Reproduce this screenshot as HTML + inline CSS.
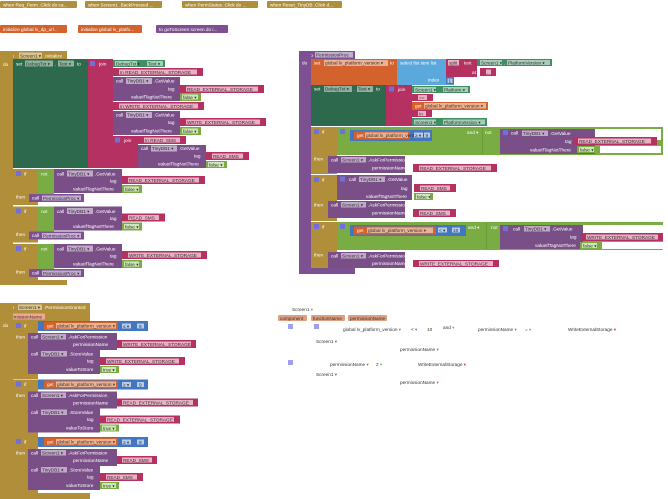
<!DOCTYPE html>
<html><head><meta charset="utf-8"><style>
html,body{margin:0;padding:0;background:#fff;width:668px;height:499px;overflow:hidden}
svg text{font-family:"Liberation Sans",sans-serif;font-size:4.7px;fill:#fff}
.d{fill:#333}
</style></head><body>
<svg width="668" height="499" viewBox="0 0 668 499" xmlns="http://www.w3.org/2000/svg">
<!-- top collapsed -->
<g>
<rect x="0" y="1" width="77" height="7" fill="#b18f3a" rx="1"/><text x="3" y="6.5">when Req_Perm .Click do ca...</text>
<rect x="85" y="1" width="77" height="7" fill="#b18f3a" rx="1"/><text x="88" y="6.5">when Screen1 .BackPressed ...</text>
<rect x="182" y="1" width="76" height="7" fill="#b18f3a" rx="1"/><text x="185" y="6.5">when PermStatus .Click do ...</text>
<rect x="267" y="1" width="75" height="7" fill="#b18f3a" rx="1"/><text x="270" y="6.5">when Reset_TinyDB .Click d...</text>
<rect x="0" y="25" width="67" height="8" fill="#d4622c" rx="1"/><text x="3" y="31">initialize global lv_dp_url...</text>
<rect x="78" y="25" width="64" height="8" fill="#d4622c" rx="1"/><text x="81" y="31">initialize global lv_platfo...</text>
<rect x="156" y="25" width="72" height="8" fill="#7d5191" rx="1"/><text x="159" y="31">to goToScreen   screen do i...</text>
</g>

<!-- Screen1.Initialize -->
<g>
<rect x="0" y="51" width="67" height="10" fill="#b18f3a"/>
<text x="3" y="57.5">when</text><rect x="19" y="52.5" width="23" height="6" fill="#d8c495"/><text x="20" y="57.5" class="d">Screen1 ▾</text><text x="44" y="57.5">.Initialize</text>
<rect x="0" y="51" width="13" height="234" fill="#b18f3a"/>
<rect x="0" y="280" width="67" height="5" fill="#b18f3a"/>
<text x="3" y="66">do</text>
<rect x="13" y="59" width="75" height="109" fill="#2d6a4d"/>
<text x="16" y="65.5">set</text><rect x="25" y="60.5" width="28" height="6" fill="#8fb3a0"/><text x="26" y="65.5" class="d">DebugTxt ▾</text><text x="55" y="65.5">.</text><rect x="58" y="60.5" width="16" height="6" fill="#8fb3a0"/><text x="59" y="65.5" class="d">Text ▾</text><text x="77" y="65.5">to</text>
<rect x="88" y="59" width="25" height="109" fill="#b53161"/>
<rect x="90" y="61" width="5" height="5" fill="#7070d8"/><text x="99" y="65.5">join</text>
<rect x="113" y="60" width="52" height="7" fill="#3e9063"/><rect x="115" y="61" width="22" height="5" fill="#a7cdb8"/><text x="116" y="65.3" class="d">DebugTxt ▾</text><rect x="147" y="61" width="16" height="5" fill="#a7cdb8"/><text x="148" y="65.3" class="d">Text ▾</text>
<rect x="113" y="68" width="90" height="8" fill="#b53161"/><rect x="119" y="69.5" width="78" height="5" fill="#e8b0c4"/><text x="120" y="74" class="d">In READ_EXTERNAL_STORAGE</text>
<rect x="113" y="77" width="67" height="24" fill="#7a4f88"/><text x="116" y="82.5">call</text><rect x="126" y="78" width="26" height="6" fill="#c0a8c8"/><text x="127" y="82.5" class="d">TinyDB1 ▾</text><text x="154" y="82.5">.GetValue</text>
<text x="168" y="90.5">tag</text><rect x="180" y="85" width="84" height="8" fill="#b53161"/><rect x="186" y="86.5" width="72" height="5" fill="#e8b0c4"/><text x="187" y="91" class="d">READ_EXTERNAL_STORAGE</text>
<text x="131" y="98.5">valueIfTagNotThere</text><rect x="180" y="93" width="21" height="8" fill="#79ad43"/><rect x="182" y="94.5" width="16" height="5" fill="#d0e6b8"/><text x="183" y="99" class="d">false ▾</text>
<rect x="113" y="102" width="91" height="8" fill="#b53161"/><rect x="119" y="103.5" width="79" height="5" fill="#e8b0c4"/><text x="120" y="108" class="d">In WRITE_EXTERNAL_STORAGE</text>
<rect x="113" y="111" width="67" height="24" fill="#7a4f88"/><text x="116" y="116.5">call</text><rect x="126" y="112" width="26" height="6" fill="#c0a8c8"/><text x="127" y="116.5" class="d">TinyDB1 ▾</text><text x="154" y="116.5">.GetValue</text>
<text x="168" y="124">tag</text><rect x="180" y="118" width="86" height="8" fill="#b53161"/><rect x="186" y="119.5" width="74" height="5" fill="#e8b0c4"/><text x="187" y="124" class="d">WRITE_EXTERNAL_STORAGE</text>
<text x="131" y="132.5">valueIfTagNotThere</text><rect x="180" y="127" width="21" height="8" fill="#79ad43"/><rect x="182" y="128.5" width="16" height="5" fill="#d0e6b8"/><text x="183" y="133" class="d">false ▾</text>
<rect x="113" y="136" width="25" height="32" fill="#b53161"/><rect x="115" y="137.5" width="5" height="5" fill="#7070d8"/><text x="124" y="142">join</text>
<rect x="138" y="136" width="48" height="8" fill="#b53161"/><rect x="144" y="137.5" width="36" height="5" fill="#e8b0c4"/><text x="145" y="142" class="d">In READ_SMS</text>
<rect x="138" y="145" width="68" height="23" fill="#7a4f88"/><text x="141" y="150">call</text><rect x="151" y="145.5" width="26" height="6" fill="#c0a8c8"/><text x="152" y="150" class="d">TinyDB1 ▾</text><text x="179" y="150">.GetValue</text>
<text x="194" y="157.5">tag</text><rect x="206" y="152" width="43" height="8" fill="#b53161"/><rect x="212" y="153.5" width="31" height="5" fill="#e8b0c4"/><text x="213" y="158" class="d">READ_SMS</text>
<text x="158" y="165.5">valueIfTagNotThere</text><rect x="206" y="161" width="21" height="7" fill="#79ad43"/><rect x="208" y="162" width="16" height="5" fill="#d0e6b8"/><text x="209" y="166.3" class="d">false ▾</text>
<!-- ifs -->
<g id="if1">
<rect x="13" y="169" width="25" height="36" fill="#b18f3a"/><rect x="16" y="171" width="5" height="5" fill="#7070d8"/><text x="24" y="175.5">if</text><text x="16" y="198.5">then</text>
<rect x="38" y="169" width="16" height="31" fill="#79ad43"/><text x="41" y="175.5">not</text>
<rect x="54" y="169" width="68" height="24" fill="#7a4f88"/><text x="57" y="175.5">call</text><rect x="67" y="170.5" width="26" height="6" fill="#c0a8c8"/><text x="68" y="175.5" class="d">TinyDB1 ▾</text><text x="95" y="175.5">.GetValue</text>
<text x="110" y="182.5">tag</text><rect x="122" y="176" width="83" height="8" fill="#b53161"/><rect x="128" y="177.5" width="71" height="5" fill="#e8b0c4"/><text x="129" y="182" class="d">READ_EXTERNAL_STORAGE</text>
<text x="73" y="190.5">valueIfTagNotThere</text><rect x="122" y="185" width="20" height="8" fill="#79ad43"/><rect x="124" y="186.5" width="15" height="5" fill="#d0e6b8"/><text x="125" y="191" class="d">false ▾</text>
<rect x="29" y="194" width="55" height="8" fill="#7d5191"/><text x="32" y="199.5">call</text><rect x="42" y="195.5" width="39" height="5" fill="#c3aed0"/><text x="43" y="199.8" class="d">PermissionProc ▾</text>
</g>
<g transform="translate(0,37.5)">
<rect x="13" y="169" width="25" height="36" fill="#b18f3a"/><rect x="16" y="171" width="5" height="5" fill="#7070d8"/><text x="24" y="175.5">if</text><text x="16" y="198.5">then</text>
<rect x="38" y="169" width="16" height="31" fill="#79ad43"/><text x="41" y="175.5">not</text>
<rect x="54" y="169" width="68" height="24" fill="#7a4f88"/><text x="57" y="175.5">call</text><rect x="67" y="170.5" width="26" height="6" fill="#c0a8c8"/><text x="68" y="175.5" class="d">TinyDB1 ▾</text><text x="95" y="175.5">.GetValue</text>
<text x="110" y="182.5">tag</text><rect x="122" y="176" width="43" height="8" fill="#b53161"/><rect x="128" y="177.5" width="31" height="5" fill="#e8b0c4"/><text x="129" y="182" class="d">READ_SMS</text>
<text x="73" y="190.5">valueIfTagNotThere</text><rect x="122" y="185" width="20" height="8" fill="#79ad43"/><rect x="124" y="186.5" width="15" height="5" fill="#d0e6b8"/><text x="125" y="191" class="d">false ▾</text>
<rect x="29" y="194" width="55" height="8" fill="#7d5191"/><text x="32" y="199.5">call</text><rect x="42" y="195.5" width="39" height="5" fill="#c3aed0"/><text x="43" y="199.8" class="d">PermissionProc ▾</text>
</g>
<g transform="translate(0,75)">
<rect x="13" y="169" width="25" height="36" fill="#b18f3a"/><rect x="16" y="171" width="5" height="5" fill="#7070d8"/><text x="24" y="175.5">if</text><text x="16" y="198.5">then</text>
<rect x="38" y="169" width="16" height="31" fill="#79ad43"/><text x="41" y="175.5">not</text>
<rect x="54" y="169" width="68" height="24" fill="#7a4f88"/><text x="57" y="175.5">call</text><rect x="67" y="170.5" width="26" height="6" fill="#c0a8c8"/><text x="68" y="175.5" class="d">TinyDB1 ▾</text><text x="95" y="175.5">.GetValue</text>
<text x="110" y="182.5">tag</text><rect x="122" y="176" width="85" height="8" fill="#b53161"/><rect x="128" y="177.5" width="73" height="5" fill="#e8b0c4"/><text x="129" y="182" class="d">WRITE_EXTERNAL_STORAGE</text>
<text x="73" y="190.5">valueIfTagNotThere</text><rect x="122" y="185" width="20" height="8" fill="#79ad43"/><rect x="124" y="186.5" width="15" height="5" fill="#d0e6b8"/><text x="125" y="191" class="d">false ▾</text>
<rect x="29" y="194" width="55" height="8" fill="#7d5191"/><text x="32" y="199.5">call</text><rect x="42" y="195.5" width="39" height="5" fill="#c3aed0"/><text x="43" y="199.8" class="d">PermissionProc ▾</text>
</g>
</g>

<!-- PermissionProc -->
<g>
<rect x="299" y="51" width="56" height="8" fill="#7d5191"/><rect x="301" y="52" width="5" height="5" fill="#7070d8"/><text x="309" y="56.8">to</text><rect x="315" y="52" width="38" height="5.5" fill="#c3aed0"/><text x="316" y="56.5" class="d">PermissionProc</text>
<rect x="299" y="51" width="12" height="223" fill="#7d5191"/><rect x="299" y="268" width="56" height="6" fill="#7d5191"/>
<text x="302" y="64.5">do</text>
<rect x="311" y="59" width="86" height="26" fill="#d4622c"/><text x="314" y="64.5">set</text><rect x="324" y="60" width="64" height="6" fill="#eab293"/><text x="325" y="64.5" class="d">global lv_platform_version ▾</text><text x="390" y="64.5">to</text>
<rect x="397" y="59" width="57" height="26" fill="#5aa8dc"/><text x="400" y="64.5">select list item  list</text><text x="428" y="81.5">index</text>
<rect x="446" y="77" width="8" height="7" fill="#4276bf"/><rect x="447.5" y="78.5" width="5" height="4.5" fill="#b8cbe8"/><text x="448.5" y="82.5" class="d">1</text>
<rect x="446" y="59" width="31" height="18" fill="#b53161"/><rect x="448" y="60" width="11" height="5.5" fill="#e8b0c4"/><text x="449" y="64.5" class="d">split</text><text x="464" y="64.5">text</text><text x="472" y="74">at</text>
<rect x="477" y="59" width="75" height="7" fill="#3e9063"/><rect x="480" y="60" width="22" height="5" fill="#a7cdb8"/><text x="481" y="64.3" class="d">Screen1 ▾</text><text x="504" y="64.3">.</text><rect x="507" y="60" width="43" height="5" fill="#a7cdb8"/><text x="508" y="64.3" class="d">PlatformVersion ▾</text>
<rect x="480" y="68" width="16" height="8" fill="#b53161"/><rect x="486" y="69.5" width="5" height="5" fill="#e8b0c4"/><text x="487" y="74" class="d">.</text>
<rect x="311" y="85" width="75" height="41" fill="#2d6a4d"/><text x="314" y="90.5">set</text><rect x="324" y="86" width="28" height="6" fill="#8fb3a0"/><text x="325" y="90.5" class="d">DebugTxt ▾</text><text x="354" y="90.5">.</text><rect x="357" y="86" width="16" height="6" fill="#8fb3a0"/><text x="358" y="90.5" class="d">Text ▾</text><text x="376" y="90.5">to</text>
<rect x="386" y="85" width="26" height="41" fill="#b53161"/><rect x="389" y="86.5" width="5" height="5" fill="#7070d8"/><text x="398" y="90.8">join</text>
<rect x="412" y="86" width="58" height="7" fill="#3e9063"/><rect x="414" y="87" width="22" height="5" fill="#a7cdb8"/><text x="415" y="91.3" class="d">Screen1 ▾</text><rect x="443" y="87" width="25" height="5" fill="#a7cdb8"/><text x="444" y="91.3" class="d">Platform ▾</text>
<rect x="412" y="94" width="21" height="7" fill="#b53161"/><rect x="418" y="95" width="9" height="5" fill="#e8b0c4"/><text x="419" y="99.3" class="d">==</text>
<rect x="412" y="102" width="76" height="8" fill="#d4622c"/><text x="415" y="107.5">get</text><rect x="424" y="103" width="62" height="5.5" fill="#eab293"/><text x="425" y="107.3" class="d">global lv_platform_version ▾</text>
<rect x="412" y="110" width="20" height="7" fill="#b53161"/><rect x="418" y="111" width="8" height="5" fill="#e8b0c4"/><text x="419" y="115.3" class="d">In</text>
<rect x="412" y="118" width="75" height="8" fill="#3e9063"/><rect x="414" y="119.5" width="22" height="5" fill="#a7cdb8"/><text x="415" y="123.8" class="d">Screen1 ▾</text><rect x="443" y="119.5" width="42" height="5" fill="#a7cdb8"/><text x="444" y="123.8" class="d">PlatformVersion ▾</text>
<!-- if 1 -->
<rect x="311" y="127" width="26" height="47" fill="#b18f3a"/><rect x="314" y="129" width="5" height="5" fill="#7070d8"/><text x="322" y="133.5">if</text><text x="314" y="160.5">then</text>
<rect x="337" y="127" width="326" height="28" fill="#79ad43"/><rect x="340" y="129" width="5" height="5" fill="#7070d8"/>
<rect x="350" y="130" width="82" height="11" fill="#4276bf"/><rect x="354" y="131.5" width="56" height="8" fill="#d4622c"/><text x="357" y="137">get</text><rect x="365" y="132.5" width="43" height="5.5" fill="#eab293"/><text x="366" y="136.8" class="d">global lv_platform_version ▾</text>
<rect x="414" y="132.5" width="9" height="5" fill="#b8cbe8"/><text x="415" y="136.8" class="d">≥ ▾</text><rect x="424" y="132.5" width="6" height="5" fill="#b8cbe8"/><text x="425.5" y="136.8" class="d">9</text>
<text x="467" y="134">and ▾</text><text x="485" y="134">not</text>
<rect x="482" y="128" width="1" height="26" fill="#6a9a38"/>
<rect x="500" y="129" width="95" height="25" fill="#7a4f88"/><rect x="503" y="130" width="5" height="5" fill="#7070d8"/><text x="511" y="134.5">call</text><rect x="522" y="130.5" width="26" height="5.5" fill="#c0a8c8"/><text x="523" y="134.8" class="d">TinyDB1 ▾</text><text x="550" y="134.8">.GetValue</text>
<rect x="595" y="129" width="66" height="11" fill="#fff"/><rect x="600" y="146" width="61" height="7" fill="#fff"/>
<text x="565" y="143">tag</text><rect x="573" y="137" width="84" height="8" fill="#b53161"/><rect x="578" y="138.5" width="73" height="5" fill="#e8b0c4"/><text x="579" y="142.8" class="d">READ_EXTERNAL_STORAGE</text>
<text x="530" y="151.5">valueIfTagNotThere</text><rect x="577" y="146" width="21" height="7" fill="#79ad43"/><rect x="579" y="147" width="15" height="5" fill="#d0e6b8"/><text x="580" y="151.3" class="d">false ▾</text>
<rect x="328" y="156" width="77" height="17" fill="#7a4f88"/><text x="331" y="161.5">call</text><rect x="341" y="157" width="25" height="5.5" fill="#c0a8c8"/><text x="342" y="161.3" class="d">Screen1 ▾</text><text x="368" y="161.3">.AskForPermission</text>
<text x="372" y="169.5">permissionName</text><rect x="413" y="164" width="84" height="8" fill="#b53161"/><rect x="419" y="165.5" width="72" height="5" fill="#e8b0c4"/><text x="420" y="169.8" class="d">READ_EXTERNAL_STORAGE</text>
<!-- if 2 -->
<rect x="311" y="175" width="26" height="46" fill="#b18f3a"/><rect x="314" y="177" width="5" height="5" fill="#7070d8"/><text x="322" y="181.5">if</text><text x="314" y="206.5">then</text>
<rect x="337" y="175" width="75" height="25" fill="#7a4f88"/><rect x="340" y="176.5" width="5" height="5" fill="#7070d8"/><text x="349" y="181">call</text><rect x="359" y="176.5" width="26" height="5.5" fill="#c0a8c8"/><text x="360" y="181" class="d">TinyDB1 ▾</text><text x="387" y="181">.GetValue</text>
<text x="401" y="190">tag</text><rect x="414" y="184" width="42" height="8" fill="#b53161"/><rect x="420" y="185.5" width="30" height="5" fill="#e8b0c4"/><text x="421" y="189.8" class="d">READ_SMS</text>
<text x="366" y="198">valueIfTagNotThere</text><rect x="414" y="193" width="19" height="7" fill="#79ad43"/><rect x="416" y="194" width="14" height="5" fill="#d0e6b8"/><text x="417" y="198.3" class="d">false ▾</text>
<rect x="328" y="201" width="77" height="17" fill="#7a4f88"/><text x="331" y="206.5">call</text><rect x="341" y="202" width="25" height="5.5" fill="#c0a8c8"/><text x="342" y="206.3" class="d">Screen1 ▾</text><text x="368" y="206.3">.AskForPermission</text>
<text x="372" y="214.5">permissionName</text><rect x="413" y="209" width="43" height="8" fill="#b53161"/><rect x="419" y="210.5" width="31" height="5" fill="#e8b0c4"/><text x="420" y="214.8" class="d">READ_SMS</text>
<!-- if 3 -->
<rect x="311" y="222" width="26" height="46" fill="#b18f3a"/><rect x="314" y="224" width="5" height="5" fill="#7070d8"/><text x="322" y="228.5">if</text><text x="314" y="256.5">then</text>
<rect x="337" y="222" width="326" height="28" fill="#79ad43"/><rect x="340" y="224" width="5" height="5" fill="#7070d8"/>
<rect x="350" y="225" width="116" height="11" fill="#4276bf"/><rect x="354" y="226.5" width="82" height="8" fill="#d4622c"/><text x="357" y="232">get</text><rect x="367" y="227.5" width="66" height="5.5" fill="#eab293"/><text x="368" y="231.8" class="d">global lv_platform_version ▾</text>
<rect x="438" y="227.5" width="9" height="5" fill="#b8cbe8"/><text x="439" y="231.8" class="d">&lt; ▾</text><rect x="452" y="227.5" width="8" height="5" fill="#b8cbe8"/><text x="453" y="231.8" class="d">10</text>
<text x="468" y="229">and ▾</text><text x="491" y="229">not</text>
<rect x="486" y="223" width="1" height="26" fill="#6a9a38"/>
<rect x="500" y="225" width="83" height="24" fill="#7a4f88"/><rect x="503" y="226" width="5" height="5" fill="#7070d8"/><text x="513" y="230.5">call</text><rect x="524" y="226" width="26" height="5.5" fill="#c0a8c8"/><text x="525" y="230.5" class="d">TinyDB1 ▾</text><text x="552" y="230.5">.GetValue</text>
<rect x="583" y="225" width="80" height="8" fill="#fff"/><rect x="602" y="242" width="61" height="7" fill="#fff"/>
<text x="570" y="238.5">tag</text><rect x="581" y="233" width="82" height="8" fill="#b53161"/><rect x="586" y="234.5" width="72" height="5" fill="#e8b0c4"/><text x="587" y="238.8" class="d">WRITE_EXTERNAL_STORAGE</text>
<text x="535" y="247">valueIfTagNotThere</text><rect x="580" y="242" width="20" height="7" fill="#79ad43"/><rect x="582" y="243" width="15" height="5" fill="#d0e6b8"/><text x="583" y="247.3" class="d">false ▾</text>
<rect x="328" y="252" width="77" height="16" fill="#7a4f88"/><text x="331" y="257.5">call</text><rect x="341" y="253" width="25" height="5.5" fill="#c0a8c8"/><text x="342" y="257.3" class="d">Screen1 ▾</text><text x="368" y="257.3">.AskForPermission</text>
<text x="372" y="265">permissionName</text><rect x="413" y="260" width="86" height="7" fill="#b53161"/><rect x="419" y="261" width="74" height="5" fill="#e8b0c4"/><text x="420" y="265.3" class="d">WRITE_EXTERNAL_STORAGE</text>
</g>

<!-- PermissionGranted -->
<g>
<rect x="0" y="303" width="90" height="9" fill="#b18f3a"/><text x="3" y="309">when</text><rect x="18" y="304.5" width="24" height="5.5" fill="#d8c495"/><text x="19" y="309" class="d">Screen1 ▾</text><text x="44" y="309">.PermissionGranted</text>
<rect x="0" y="312" width="90" height="9" fill="#b18f3a"/><rect x="5" y="313.5" width="40" height="6" fill="#f0a890"/><text x="7" y="318.5" class="d">permissionName</text>
<rect x="0" y="303" width="13" height="196" fill="#b18f3a"/><rect x="0" y="493" width="90" height="6" fill="#b18f3a"/>
<text x="3" y="327">do</text>
</g>
<g id="pg1">
<rect x="13" y="321" width="25" height="58" fill="#b18f3a"/><rect x="16" y="323" width="5" height="5" fill="#7070d8"/><text x="24" y="327.5">if</text><text x="16" y="338.5">then</text>
<rect x="38" y="321" width="110" height="10" fill="#4276bf"/><rect x="44" y="322" width="74" height="8" fill="#d4622c"/><text x="47" y="327.5">get</text><rect x="56" y="323" width="60" height="5.5" fill="#eab293"/><text x="57" y="327.3" class="d">global lv_platform_version ▾</text>
<rect x="122" y="323.5" width="9" height="5" fill="#b8cbe8"/><text x="123" y="327.8" class="d">≤ ▾</text><rect x="137" y="323.5" width="7" height="5" fill="#b8cbe8"/><text x="139" y="327.8" class="d">9</text>
<rect x="28" y="333" width="89" height="17" fill="#7a4f88"/><text x="31" y="338.5">call</text><rect x="41" y="334" width="25" height="5.5" fill="#c0a8c8"/><text x="42" y="338.3" class="d">Screen1 ▾</text><text x="68" y="338.3">.AskForPermission</text>
<text x="73" y="346">permissionName</text><rect x="117" y="340" width="79" height="8" fill="#b53161"/><rect x="122" y="341.5" width="69" height="5" fill="#e8b0c4"/><text x="123" y="345.8" class="d">WRITE_EXTERNAL_STORAGE</text>
<rect x="28" y="350" width="72" height="24" fill="#7a4f88"/><text x="31" y="355.5">call</text><rect x="41" y="351" width="26" height="5.5" fill="#c0a8c8"/><text x="42" y="355.3" class="d">TinyDB1 ▾</text><text x="69" y="355.3">.StoreValue</text>
<text x="87" y="362.5">tag</text><rect x="100" y="357" width="85" height="8" fill="#b53161"/><rect x="106" y="358.5" width="73" height="5" fill="#e8b0c4"/><text x="107" y="362.8" class="d">WRITE_EXTERNAL_STORAGE</text>
<text x="66" y="371">valueToStore</text><rect x="100" y="366" width="19" height="7" fill="#79ad43"/><rect x="102" y="367" width="14" height="5" fill="#d0e6b8"/><text x="103" y="371.3" class="d">true ▾</text>
</g>
<g transform="translate(0,58.5)">
<rect x="13" y="321" width="25" height="58" fill="#b18f3a"/><rect x="16" y="323" width="5" height="5" fill="#7070d8"/><text x="24" y="327.5">if</text><text x="16" y="338.5">then</text>
<rect x="38" y="321" width="110" height="10" fill="#4276bf"/><rect x="44" y="322" width="74" height="8" fill="#d4622c"/><text x="47" y="327.5">get</text><rect x="56" y="323" width="60" height="5.5" fill="#eab293"/><text x="57" y="327.3" class="d">global lv_platform_version ▾</text>
<rect x="122" y="323.5" width="9" height="5" fill="#b8cbe8"/><text x="123" y="327.8" class="d">≥ ▾</text><rect x="137" y="323.5" width="7" height="5" fill="#b8cbe8"/><text x="139" y="327.8" class="d">9</text>
<rect x="28" y="333" width="89" height="17" fill="#7a4f88"/><text x="31" y="338.5">call</text><rect x="41" y="334" width="25" height="5.5" fill="#c0a8c8"/><text x="42" y="338.3" class="d">Screen1 ▾</text><text x="68" y="338.3">.AskForPermission</text>
<text x="73" y="346">permissionName</text><rect x="117" y="340" width="81" height="8" fill="#b53161"/><rect x="122" y="341.5" width="71" height="5" fill="#e8b0c4"/><text x="123" y="345.8" class="d">READ_EXTERNAL_STORAGE</text>
<rect x="28" y="350" width="72" height="24" fill="#7a4f88"/><text x="31" y="355.5">call</text><rect x="41" y="351" width="26" height="5.5" fill="#c0a8c8"/><text x="42" y="355.3" class="d">TinyDB1 ▾</text><text x="69" y="355.3">.StoreValue</text>
<text x="87" y="362.5">tag</text><rect x="100" y="357" width="80" height="8" fill="#b53161"/><rect x="106" y="358.5" width="68" height="5" fill="#e8b0c4"/><text x="107" y="362.8" class="d">READ_EXTERNAL_STORAGE</text>
<text x="66" y="371">valueToStore</text><rect x="100" y="366" width="19" height="7" fill="#79ad43"/><rect x="102" y="367" width="14" height="5" fill="#d0e6b8"/><text x="103" y="371.3" class="d">true ▾</text>
</g>
<g transform="translate(0,116)">
<rect x="13" y="321" width="25" height="58" fill="#b18f3a"/><rect x="16" y="323" width="5" height="5" fill="#7070d8"/><text x="24" y="327.5">if</text><text x="16" y="338.5">then</text>
<rect x="38" y="321" width="110" height="10" fill="#4276bf"/><rect x="44" y="322" width="74" height="8" fill="#d4622c"/><text x="47" y="327.5">get</text><rect x="56" y="323" width="60" height="5.5" fill="#eab293"/><text x="57" y="327.3" class="d">global lv_platform_version ▾</text>
<rect x="122" y="323.5" width="9" height="5" fill="#b8cbe8"/><text x="123" y="327.8" class="d">≥ ▾</text><rect x="137" y="323.5" width="7" height="5" fill="#b8cbe8"/><text x="139" y="327.8" class="d">9</text>
<rect x="28" y="333" width="89" height="17" fill="#7a4f88"/><text x="31" y="338.5">call</text><rect x="41" y="334" width="25" height="5.5" fill="#c0a8c8"/><text x="42" y="338.3" class="d">Screen1 ▾</text><text x="68" y="338.3">.AskForPermission</text>
<text x="73" y="346">permissionName</text><rect x="117" y="340" width="40" height="8" fill="#b53161"/><rect x="122" y="341.5" width="30" height="5" fill="#e8b0c4"/><text x="123" y="345.8" class="d">READ_SMS</text>
<rect x="28" y="350" width="72" height="24" fill="#7a4f88"/><text x="31" y="355.5">call</text><rect x="41" y="351" width="26" height="5.5" fill="#c0a8c8"/><text x="42" y="355.3" class="d">TinyDB1 ▾</text><text x="69" y="355.3">.StoreValue</text>
<text x="87" y="362.5">tag</text><rect x="100" y="357" width="43" height="8" fill="#b53161"/><rect x="106" y="358.5" width="31" height="5" fill="#e8b0c4"/><text x="107" y="362.8" class="d">READ_SMS</text>
<text x="66" y="371">valueToStore</text><rect x="100" y="366" width="19" height="7" fill="#79ad43"/><rect x="102" y="367" width="14" height="5" fill="#d0e6b8"/><text x="103" y="371.3" class="d">true ▾</text>
</g>

<!-- stray field text -->
<g>
<text x="292" y="311" class="d">Screen1 <tspan fill="#79ad43">▾</tspan></text>
<rect x="278" y="315" width="29" height="6" fill="#e0a080" rx="1"/><text x="280" y="319.8" class="d">component</text>
<rect x="311" y="315" width="34" height="6" fill="#e0a080" rx="1"/><text x="313" y="319.8" class="d">functionName</text>
<rect x="348" y="315" width="39" height="6" fill="#e0a080" rx="1"/><text x="350" y="319.8" class="d">permissionName</text>
<rect x="288" y="324" width="5" height="5" fill="#a0a0f0"/><rect x="314" y="324" width="5" height="5" fill="#a0a0f0"/>
<text x="343" y="331" class="d">global lv_platform_version <tspan fill="#d4622c">▾</tspan></text>
<text x="411" y="331" class="d">&lt; <tspan fill="#4276bf">▾</tspan></text><text x="427" y="331" class="d">10</text>
<text x="443" y="329" class="d">and <tspan fill="#79ad43">▾</tspan></text>
<text x="478" y="331" class="d">permissionName <tspan fill="#d4622c">▾</tspan></text>
<text x="525" y="331" class="d">= <tspan fill="#79ad43">▾</tspan></text>
<text x="568" y="331" class="d">WriteExternalStorage <tspan fill="#b53161">▾</tspan></text>
<text x="316" y="343" class="d">Screen1 <tspan fill="#7a4f88">▾</tspan></text>
<text x="400" y="351" class="d">permissionName <tspan fill="#d4622c">▾</tspan></text>
<rect x="288" y="360" width="5" height="5" fill="#a0a0f0"/>
<text x="330" y="366" class="d">permissionName <tspan fill="#d4622c">▾</tspan></text>
<text x="376" y="366" class="d">≠ <tspan fill="#79ad43">▾</tspan></text>
<text x="418" y="366" class="d">WriteExternalStorage <tspan fill="#b53161">▾</tspan></text>
<text x="316" y="376" class="d">Screen1 <tspan fill="#7a4f88">▾</tspan></text>
<text x="400" y="384" class="d">permissionName <tspan fill="#d4622c">▾</tspan></text>
</g>
</svg>
</body></html>
